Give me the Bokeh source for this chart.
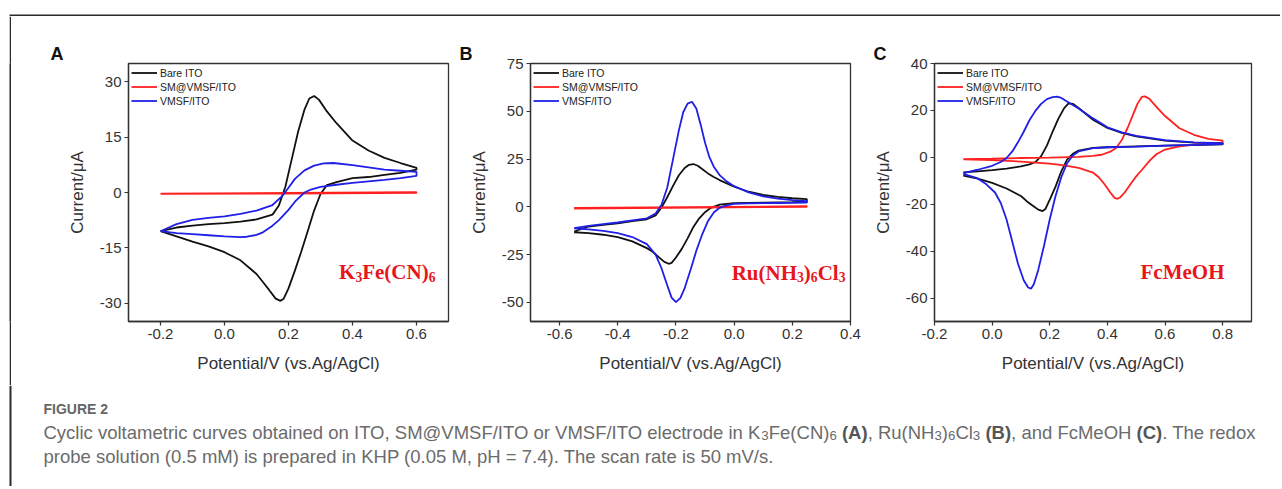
from bokeh.plotting import figure
from bokeh.models import Range1d, FixedTicker, Label, Legend, LegendItem, BoxAnnotation
from bokeh.layouts import row, column
from bokeh.embed import file_html
from bokeh.resources import INLINE

# ------------------------------------------------------------------ data
series_names = ["Bare ITO", "SM@VMSF/ITO", "VMSF/ITO"]
series_colors = ["#111111", "#ff2020", "#1f1fe8"]

# Panel A : K3Fe(CN)6
a_bare_fwd_E = [-0.2, -0.15, -0.1, -0.05, 0.0, 0.05, 0.1, 0.15, 0.17, 0.19, 0.21, 0.23, 0.25, 0.265, 0.28, 0.295, 0.32, 0.35, 0.4, 0.45, 0.5, 0.55, 0.6]
a_bare_fwd_I = [-10.5, -9.5, -9.0, -8.6, -8.3, -7.9, -7.3, -6.0, -3.5, 1.5, 9.0, 16.5, 22.5, 25.5, 26.2, 25.2, 22.0, 18.8, 14.1, 11.4, 9.4, 8.0, 6.7]
a_bare_rev_E = [0.6, 0.55, 0.5, 0.45, 0.4, 0.35, 0.32, 0.3, 0.28, 0.26, 0.24, 0.22, 0.2, 0.185, 0.175, 0.16, 0.14, 0.12, 0.1, 0.05, 0.0, -0.05, -0.1, -0.15, -0.2]
a_bare_rev_I = [6.2, 5.3, 4.8, 4.2, 3.9, 2.8, 2.0, -0.4, -4.9, -10.5, -16.0, -21.2, -26.0, -28.8, -29.4, -28.8, -26.5, -24.3, -22.1, -18.4, -16.2, -14.6, -13.3, -11.9, -10.5]
a_sm_fwd_E = [-0.2, 0.2, 0.6]
a_sm_fwd_I = [-0.3, -0.1, 0.1]
a_sm_rev_E = [0.6, 0.2, -0.2]
a_sm_rev_I = [-0.1, -0.3, -0.4]
a_vmsf_fwd_E = [-0.2, -0.15, -0.1, -0.05, 0.0, 0.05, 0.1, 0.15, 0.18, 0.2, 0.22, 0.25, 0.28, 0.31, 0.34, 0.4, 0.45, 0.5, 0.55, 0.6]
a_vmsf_fwd_I = [-10.5, -8.6, -7.4, -6.9, -6.5, -5.8, -4.9, -3.4, -1.0, 1.3, 3.7, 6.0, 7.3, 7.9, 8.0, 7.4, 6.8, 6.2, 5.9, 5.6]
a_vmsf_rev_E = [0.6, 0.55, 0.5, 0.45, 0.4, 0.35, 0.3, 0.27, 0.25, 0.22, 0.2, 0.17, 0.15, 0.12, 0.1, 0.07, 0.05, 0.0, -0.05, -0.1, -0.15, -0.2]
a_vmsf_rev_I = [4.5, 3.9, 3.4, 3.0, 2.6, 2.1, 1.5, 0.8, 0.0, -2.5, -4.7, -7.5, -9.0, -10.8, -11.5, -12.0, -12.1, -11.9, -11.6, -11.3, -11.0, -10.5]

# Panel B : Ru(NH3)6Cl3
b_bare_fwd_E = [-0.55, -0.5, -0.45, -0.4, -0.35, -0.3, -0.27, -0.25, -0.23, -0.21, -0.19, -0.17, -0.155, -0.14, -0.125, -0.11, -0.09, -0.07, -0.05, 0.0, 0.05, 0.1, 0.15, 0.2, 0.25]
b_bare_fwd_I = [-12.9, -10.3, -9.4, -8.6, -7.5, -6.5, -4.5, -0.5, 5.0, 11.0, 16.5, 20.3, 22.0, 22.4, 21.5, 19.8, 17.5, 15.6, 14.0, 10.5, 7.9, 6.2, 5.2, 4.5, 4.0]
b_bare_rev_E = [0.25, 0.2, 0.1, 0.0, -0.05, -0.08, -0.1, -0.12, -0.14, -0.16, -0.18, -0.2, -0.215, -0.225, -0.24, -0.26, -0.28, -0.3, -0.35, -0.4, -0.45, -0.5, -0.55]
b_bare_rev_I = [2.7, 2.5, 2.2, 1.9, 1.2, -0.5, -2.8, -6.0, -10.5, -16.5, -22.0, -26.5, -29.3, -29.8, -28.8, -26.2, -23.5, -21.6, -18.1, -15.9, -14.6, -13.8, -13.3]
b_sm_fwd_E = [-0.55, 0.25]
b_sm_fwd_I = [-0.6, 0.3]
b_sm_rev_E = [0.25, -0.55]
b_sm_rev_I = [0.0, -0.9]
b_vmsf_fwd_E = [-0.55, -0.5, -0.45, -0.4, -0.35, -0.3, -0.27, -0.25, -0.23, -0.21, -0.19, -0.175, -0.16, -0.145, -0.13, -0.115, -0.1, -0.085, -0.07, -0.05, -0.025, 0.0, 0.05, 0.1, 0.15, 0.2, 0.25]
b_vmsf_fwd_I = [-11.2, -10.0, -9.1, -8.2, -7.1, -6.0, -3.5, 1.0, 10.0, 25.0, 40.0, 49.5, 54.0, 55.0, 51.5, 43.0, 33.5, 26.0, 21.0, 16.6, 13.2, 10.8, 7.6, 5.5, 4.3, 3.5, 3.0]
b_vmsf_rev_E = [0.25, 0.15, 0.05, 0.0, -0.03, -0.05, -0.07, -0.09, -0.11, -0.13, -0.15, -0.17, -0.185, -0.2, -0.215, -0.23, -0.25, -0.27, -0.3, -0.35, -0.4, -0.45, -0.5, -0.55]
b_vmsf_rev_I = [2.2, 2.0, 1.8, 1.5, 0.6, -0.5, -3.0, -7.5, -14.5, -23.0, -33.0, -42.5, -47.8, -49.9, -47.5, -41.0, -32.0, -25.0, -19.5, -15.8, -13.8, -12.6, -11.8, -11.2]

# Panel C : FcMeOH
c_bare_fwd_E = [-0.1, -0.05, 0.0, 0.05, 0.1, 0.13, 0.15, 0.17, 0.19, 0.21, 0.23, 0.25, 0.265, 0.28, 0.3, 0.35, 0.4, 0.45, 0.5, 0.6, 0.7, 0.8]
c_bare_fwd_I = [-6.4, -6.0, -5.5, -4.8, -3.9, -3.0, -2.0, 0.5, 5.0, 11.0, 16.5, 21.0, 23.0, 22.8, 21.0, 16.0, 12.5, 10.4, 8.9, 7.1, 6.3, 6.0]
c_bare_rev_E = [0.8, 0.7, 0.6, 0.5, 0.4, 0.35, 0.3, 0.28, 0.26, 0.24, 0.22, 0.2, 0.185, 0.175, 0.16, 0.14, 0.12, 0.1, 0.05, 0.0, -0.05, -0.1]
c_bare_rev_I = [5.5, 5.2, 5.0, 4.7, 4.3, 4.0, 2.9, 1.5, -1.0, -6.0, -12.5, -18.0, -22.0, -22.9, -22.3, -20.5, -18.7, -16.5, -13.3, -10.9, -9.1, -7.8]
c_sm_fwd_E = [-0.1, 0.0, 0.1, 0.2, 0.3, 0.35, 0.38, 0.41, 0.43, 0.45, 0.47, 0.49, 0.505, 0.52, 0.53, 0.545, 0.57, 0.6, 0.65, 0.7, 0.75, 0.8]
c_sm_fwd_I = [-0.8, -0.6, -0.3, -0.1, 0.2, 0.6, 1.1, 2.4, 4.0, 7.4, 12.5, 18.5, 23.0, 25.8, 26.0, 25.0, 21.5, 17.6, 12.4, 9.6, 7.9, 7.1]
c_sm_rev_E = [0.8, 0.75, 0.7, 0.65, 0.6, 0.57, 0.55, 0.52, 0.5, 0.48, 0.46, 0.445, 0.435, 0.425, 0.41, 0.39, 0.37, 0.35, 0.3, 0.25, 0.2, 0.1, 0.0, -0.1]
c_sm_rev_I = [6.3, 5.8, 5.4, 4.7, 3.3, 1.3, -1.0, -5.3, -8.1, -11.5, -15.0, -17.0, -17.7, -17.3, -15.0, -11.5, -8.5, -6.5, -4.5, -3.4, -2.7, -1.8, -1.2, -0.9]
c_vmsf_fwd_E = [-0.1, -0.05, 0.0, 0.03, 0.05, 0.07, 0.09, 0.11, 0.13, 0.15, 0.17, 0.19, 0.21, 0.225, 0.24, 0.26, 0.3, 0.35, 0.4, 0.45, 0.5, 0.6, 0.7, 0.8]
c_vmsf_fwd_I = [-6.7, -5.3, -3.6, -2.0, -0.3, 2.5, 6.5, 11.0, 15.9, 19.8, 22.8, 24.8, 25.7, 25.9, 25.3, 23.8, 20.8, 16.6, 12.8, 10.6, 9.1, 7.3, 6.4, 6.0]
c_vmsf_rev_E = [0.8, 0.7, 0.6, 0.5, 0.4, 0.35, 0.3, 0.28, 0.26, 0.24, 0.22, 0.2, 0.18, 0.16, 0.145, 0.135, 0.125, 0.11, 0.09, 0.07, 0.05, 0.03, 0.01, -0.02, -0.05, -0.1]
c_vmsf_rev_I = [5.6, 5.3, 5.0, 4.6, 4.3, 3.9, 2.5, 0.8, -2.5, -8.5, -16.5, -26.4, -37.7, -48.0, -54.0, -56.0, -55.5, -52.5, -45.5, -36.0, -26.5, -19.5, -15.0, -11.5, -9.0, -7.1]

# axes ranges / ticks
a_x_range = (-0.3, 0.7)
a_y_range = (-35, 35)
a_x_ticks = [-0.2, 0.0, 0.2, 0.4, 0.6]
a_x_tick_labels = ["-0.2", "0.0", "0.2", "0.4", "0.6"]
a_y_ticks = [-30, -15, 0, 15, 30]
a_y_tick_labels = ["-30", "-15", "0", "15", "30"]

b_x_range = (-0.7, 0.4)
b_y_range = (-60, 75)
b_x_ticks = [-0.6, -0.4, -0.2, 0.0, 0.2, 0.4]
b_x_tick_labels = ["-0.6", "-0.4", "-0.2", "0.0", "0.2", "0.4"]
b_y_ticks = [-50, -25, 0, 25, 50, 75]
b_y_tick_labels = ["-50", "-25", "0", "25", "50", "75"]

c_x_range = (-0.2, 0.9)
c_y_range = (-70, 40)
c_x_ticks = [-0.2, 0.0, 0.2, 0.4, 0.6, 0.8]
c_x_tick_labels = ["-0.2", "0.0", "0.2", "0.4", "0.6", "0.8"]
c_y_ticks = [-60, -40, -20, 0, 20, 40]
c_y_tick_labels = ["-60", "-40", "-20", "0", "20", "40"]

x_axis_title = "Potential/V (vs.Ag/AgCl)"
y_axis_title = "Current/\u03bcA"
panel_letters = ["A", "B", "C"]
probe_a = [("K", "n"), ("3", "sub"), ("Fe(CN)", "n"), ("6", "sub")]
probe_b = [("Ru(NH", "n"), ("3", "sub"), (")", "n"), ("6", "sub"), ("Cl", "n"), ("3", "sub")]
probe_c = [("FcMeOH", "n")]

caption_head = "FIGURE 2"
caption_line1 = [("Cyclic voltametric curves obtained on ITO, SM@VMSF/ITO or VMSF/ITO electrode in K", "n"), ("3", "sub"),
                 ("Fe(CN)", "n"), ("6", "sub"), (" ", "n"), ("(A)", "b"), (", Ru(NH", "n"), ("3", "sub"), (")", "n"),
                 ("6", "sub"), ("Cl", "n"), ("3", "sub"), (" ", "n"), ("(B)", "b"), (", and FcMeOH ", "n"), ("(C)", "b"),
                 (". The redox", "n")]
caption_line2 = [("probe solution (0.5 mM) is prepared in KHP (0.05 M, pH = 7.4). The scan rate is 50 mV/s.", "n")]

# ------------------------------------------------------------------ font metrics (Arial / Times-compatible)
ARIAL = {' ': 278, '!': 278, '(': 333, ')': 333, ',': 278, '-': 333, '.': 278, '/': 278, ':': 278, '@': 1015, '=': 584,
         'A': 667, 'B': 667, 'C': 722, 'D': 722, 'E': 667, 'F': 611, 'G': 778, 'H': 722, 'I': 278, 'J': 500, 'K': 667,
         'L': 556, 'M': 833, 'N': 722, 'O': 778, 'P': 667, 'Q': 778, 'R': 722, 'S': 667, 'T': 611, 'U': 722, 'V': 667,
         'W': 944, 'X': 667, 'Y': 667, 'Z': 611,
         'a': 556, 'b': 556, 'c': 500, 'd': 556, 'e': 556, 'f': 278, 'g': 556, 'h': 556, 'i': 222, 'j': 222, 'k': 500,
         'l': 222, 'm': 833, 'n': 556, 'o': 556, 'p': 556, 'q': 556, 'r': 333, 's': 500, 't': 278, 'u': 556, 'v': 500,
         'w': 722, 'x': 500, 'y': 500, 'z': 500}
ARIAL_BOLD = dict(ARIAL)
ARIAL_BOLD.update({'A': 722, 'B': 722, 'C': 722})
TIMES_BOLD = {'K': 778, 'F': 611, 'e': 444, '(': 333, ')': 333, 'C': 722, 'N': 722, 'R': 722, 'u': 556, 'H': 778,
              'l': 278, 'c': 444, 'M': 944, 'O': 778}


def tw(text, table, size):
    return sum(table.get(ch, 556 if ch.isdigit() else 500) for ch in text) * size / 1000.0


SANS = "Liberation Sans"
SERIF = "Liberation Serif"
AX = "#333333"
FRAME = "#2b2b2b"


def seg_metrics(segs, size, serif, sub_scale):
    out = []
    for text, kind in segs:
        fs = size * sub_scale if kind == "sub" else size
        if serif:
            w = len(text) * 500 * fs / 1000.0 if kind == "sub" else tw(text, TIMES_BOLD, fs)
        else:
            w = tw(text, ARIAL_BOLD if kind == "b" else ARIAL, fs)
        out.append((text, kind, fs, w))
    return out


def rich(target, segs, x, y, x_units, y_units, size, font, color, serif=False, bold_all=False,
         sub_scale=0.7, sub_drop=3.0, align="left", bold_color=None):
    met = seg_metrics(segs, size, serif, sub_scale)
    total = sum(m[3] for m in met)
    cum = 0.0 if align == "left" else (-total / 2.0 if align == "center" else -total)
    for text, kind, fs, w in met:
        style = "bold" if (bold_all or kind == "b") else ("italic" if kind == "i" else "normal")
        col = (bold_color or color) if kind == "b" else color
        target.add_layout(Label(x=x, y=y, x_units=x_units, y_units=y_units, x_offset=cum,
                                y_offset=(-sub_drop if kind == "sub" else 0.0), text=text,
                                text_font=font, text_font_size="%.2fpx" % fs, text_font_style=style,
                                text_color=col, text_align="left", text_baseline="alphabetic"))
        cum += w


ROW_H = 369


def make_panel(width, mleft, mright, mbottom, xr, yr, xt, xl, yt, yl, curves, letter, letter_off,
               probe, probe_right, probe_base):
    mtop = 47
    p = figure(width=width, height=ROW_H, x_range=Range1d(*xr), y_range=Range1d(*yr),
               output_backend="svg", toolbar_location=None,
               min_border_left=mleft, min_border_right=mright, min_border_top=mtop, min_border_bottom=mbottom)
    fw = width - mleft - mright
    p.background_fill_color = "white"
    p.border_fill_color = "white"
    p.xgrid.visible = False
    p.ygrid.visible = False
    p.outline_line_color = AX
    p.outline_line_width = 1.3
    p.outline_line_alpha = 1.0
    for ax in (p.xaxis[0], p.yaxis[0]):
        ax.axis_line_color = AX
        ax.axis_line_width = 1.3
        ax.major_tick_line_color = AX
        ax.major_tick_line_width = 1.2
        ax.major_tick_out = 4
        ax.major_tick_in = 0
        ax.minor_tick_line_color = None
        ax.major_label_text_font = SANS
        ax.major_label_text_font_size = "15px"
        ax.major_label_text_color = AX
        ax.major_label_standoff = 3
        ax.axis_label_text_font = SANS
        ax.axis_label_text_font_size = "17px"
        ax.axis_label_text_font_style = "normal"
        ax.axis_label_text_color = AX
    p.xaxis.ticker = FixedTicker(ticks=xt)
    p.xaxis.major_label_overrides = {t: l for t, l in zip(xt, xl)}
    p.yaxis.ticker = FixedTicker(ticks=yt)
    p.yaxis.major_label_overrides = {t: l for t, l in zip(yt, yl)}
    p.yaxis.axis_label = y_axis_title
    p.yaxis.axis_label_standoff = 10
    p.xaxis.axis_label = x_axis_title
    p.xaxis.axis_label_standoff = 12

    # panel letter as the plot title
    p.title.text = letter
    p.title.align = "left"
    p.title.offset = letter_off
    p.title.standoff = 0
    p.title.text_font = SANS
    p.title.text_font_size = "18px"
    p.title.text_font_style = "bold"
    p.title.text_color = "#111111"

    items = []
    for (E, I), name, col in zip(curves, series_names, series_colors):
        r = p.line(E, I, line_color=col, line_width=1.8)
        items.append(LegendItem(label=name, renderers=[r]))
    leg = Legend(items=items, location="top_left", label_text_font=SANS, label_text_font_size="10.5px",
                 label_text_color="#222222", glyph_width=26, glyph_height=13, label_height=13,
                 label_standoff=3, spacing=1, padding=3, margin=3, border_line_color=None,
                 background_fill_alpha=0.0)
    p.add_layout(leg)

    # probe name (inside the frame)
    rich(p, probe, fw - probe_right, probe_base, "screen", "screen", 21, SERIF, "#e8161b",
         serif=True, bold_all=True, sub_scale=0.65, sub_drop=4.5, align="right")
    return p


def loop(fE, fI, rE, rI):
    return (fE + rE, fI + rI)


pA = make_panel(449, 117, 12, 64, a_x_range, a_y_range, a_x_ticks, a_x_tick_labels, a_y_ticks, a_y_tick_labels,
                [loop(a_bare_fwd_E, a_bare_fwd_I, a_bare_rev_E, a_bare_rev_I),
                 loop(a_sm_fwd_E, a_sm_fwd_I, a_sm_rev_E, a_sm_rev_I),
                 loop(a_vmsf_fwd_E, a_vmsf_fwd_I, a_vmsf_rev_E, a_vmsf_rev_I)],
                panel_letters[0], -78, probe_a, 13, 49.5)
pB = make_panel(410, 70, 20, 64, b_x_range, b_y_range, b_x_ticks, b_x_tick_labels, b_y_ticks, b_y_tick_labels,
                [loop(b_bare_fwd_E, b_bare_fwd_I, b_bare_rev_E, b_bare_rev_I),
                 loop(b_sm_fwd_E, b_sm_fwd_I, b_sm_rev_E, b_sm_rev_I),
                 loop(b_vmsf_fwd_E, b_vmsf_fwd_I, b_vmsf_rev_E, b_vmsf_rev_I)],
                panel_letters[1], -71, probe_b, 5, 49)
pC = make_panel(410, 58, 29, 64, c_x_range, c_y_range, c_x_ticks, c_x_tick_labels, c_y_ticks, c_y_tick_labels,
                [loop(c_bare_fwd_E, c_bare_fwd_I, c_bare_rev_E, c_bare_rev_I),
                 loop(c_sm_fwd_E, c_sm_fwd_I, c_sm_rev_E, c_sm_rev_I),
                 loop(c_vmsf_fwd_E, c_vmsf_fwd_I, c_vmsf_rev_E, c_vmsf_rev_I)],
                panel_letters[2], -61, probe_c, 33, 50)


def blank(width, height, fill):
    s = figure(width=width, height=height, x_range=Range1d(0, 1), y_range=Range1d(0, 1),
               output_backend="svg", toolbar_location=None, min_border=0)
    s.axis.visible = False
    s.xgrid.visible = False
    s.ygrid.visible = False
    s.outline_line_color = None
    s.background_fill_color = fill
    s.border_fill_color = fill
    return s


PAGE_W = 1280
spacer = blank(9, ROW_H, "white")
left_line = blank(2, ROW_H, FRAME)

# top frame line
top_h = 16
top = figure(width=PAGE_W, height=top_h, x_range=Range1d(0, PAGE_W), y_range=Range1d(top_h, 0),
             output_backend="svg", toolbar_location=None, min_border=0)
top.axis.visible = False
top.xgrid.visible = False
top.ygrid.visible = False
top.outline_line_color = None
top.add_layout(BoxAnnotation(left=9, right=PAGE_W, top=14, bottom=16, fill_color=FRAME, fill_alpha=1.0,
                             line_color=None))

# caption figure (pixel coordinates)
cap_w, cap_h = PAGE_W, 101
cap = figure(width=cap_w, height=cap_h, x_range=Range1d(0, cap_w), y_range=Range1d(cap_h, 0),
             output_backend="svg", toolbar_location=None, min_border=0)
cap.axis.visible = False
cap.xgrid.visible = False
cap.ygrid.visible = False
cap.outline_line_color = None
cap.background_fill_color = "white"
cap.border_fill_color = "white"
cap.add_layout(BoxAnnotation(left=9, right=11, top=0, bottom=cap_h, fill_color=FRAME, fill_alpha=1.0,
                             line_color=None))
cap.add_layout(Label(x=43, y=23, text=caption_head, text_font=SANS, text_font_style="bold",
                     text_font_size="14px", text_color="#666666", text_align="left", text_baseline="alphabetic"))
rich(cap, caption_line1, 43, 47, "data", "data", 18.5, SANS, "#6b6b6b", sub_scale=0.72, sub_drop=3.0,
     bold_color="#555555")
rich(cap, caption_line2, 43, 71, "data", "data", 18.5, SANS, "#6b6b6b")

layout = column(top, row(spacer, left_line, pA, pB, pC), cap)

open("out.html", "w").write(file_html(layout, INLINE))
